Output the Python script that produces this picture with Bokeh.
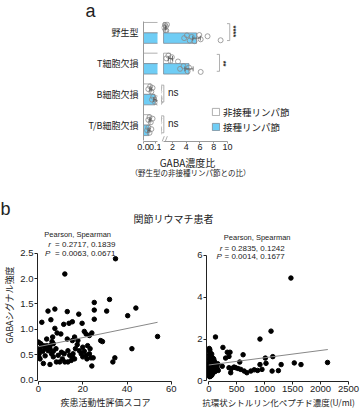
import numpy as np
from bokeh.plotting import figure
from bokeh.layouts import column, row
from bokeh.models import (Range1d, FixedTicker, ColumnDataSource, Legend, LegendItem,
                          NumeralTickFormatter)
from bokeh.core.properties import value
from bokeh.embed import file_html
from bokeh.resources import INLINE

JP = "Noto Sans CJK JP"
LAT = "Liberation Sans"
INK = "#222222"
GREY = "#9a9a9a"
BLUE = "#6FCDF5"

# ---------------- data: panel a
groups = ["野生型", "T細胞欠損", "B細胞欠損", "T/B細胞欠損"]
series_names = ["非接種リンパ節", "接種リンパ節"]
mean_non = [1.0, 1.7, 0.06, 0.055]
mean_ino = [5.5, 4.4, 0.095, 0.045]
sem_non = [0.06, 0.3, 0.008, 0.007]
sem_ino = [0.55, 0.6, 0.01, 0.008]
pts_non = [[0.8, 0.9, 1.0, 1.05, 1.1, 1.2], [1.1, 1.4, 1.7, 1.9, 2.8],
           [0.04, 0.055, 0.065, 0.075], [0.04, 0.05, 0.06, 0.075]]
pts_ino = [[3.7, 4.1, 4.5, 4.8, 5.2, 5.9, 6.1, 7.1, 9.0], [3.1, 3.6, 4.2, 4.4, 6.1],
           [0.07, 0.08, 0.095, 0.11, 0.12], [0.03, 0.04, 0.05, 0.065]]
sig_labels = ["****", "**", "ns", "ns"]
xticks_low = [0.0, 0.1]
xticks_high = [2, 4, 6, 8, 10]
break_high = 0.7
axis_high_max = 10
xlabel_a = "GABA濃度比"
xsub_a = "（野生型の非接種リンパ節との比）"

# ---------------- data: panel b
das_score = [34.8, 11.9, 32.1, 30.8, 44.0, 40.3, 53.8, 42.2, 34.5, 33.6, 28.9,
             25.2, 25.2, 25.2, 4.3, 7.4, 13.0, 18.2, 1.5, 5.6, 11.4, 15.3, 13.8, 19.7,
             7.4, 8.4, 10.1, 20.7, 21.5, 23.0, 24.1, 16.3, 13.0, 15.3, 6.4, 3.7, 0.0,
             1.0, 2.2, 4.0, 5.2, 6.7, 7.9, 4.4, 1.9, 0.3, 0.7, 3.0, 5.9, 6.7, 8.9, 10.4,
             11.6, 10.8, 9.6, 11.9, 13.3, 14.1, 14.8, 16.3, 15.6, 16.7, 17.5, 17.8, 18.5,
             19.3, 20.0, 20.7, 21.5, 21.9, 23.0, 23.7, 24.7, 24.1, 20.0, 22.2, 23.3, 28.1,
             2.2, 5.2, 8.1, 13.3, 15.3, 0.0, 0.2, 3.7, 3.0, 5.2, 6.7, 0.7, 6.1]
gaba_das = [2.39, 2.09, 1.59, 1.36, 1.42, 1.27, 0.86, 0.62, 0.44, 0.36, 0.76,
            1.53, 1.38, 1.20, 1.36, 1.40, 1.35, 1.30, 1.14, 1.19, 1.10, 1.15, 1.12, 1.12,
            1.02, 0.93, 0.91, 0.96, 0.91, 0.88, 0.93, 0.85, 0.81, 0.78, 0.85, 0.81, 0.75,
            0.72, 0.68, 0.65, 0.68, 0.72, 0.62, 0.58, 0.57, 0.52, 0.42, 0.48, 0.52, 0.46, 0.49, 0.55,
            0.52, 0.42, 0.36, 0.36, 0.58, 0.49, 0.39, 0.42, 0.52, 0.62, 0.70, 0.78, 0.58,
            0.52, 0.46, 0.57, 0.49, 0.42, 0.52, 0.44, 0.44, 0.28, 0.65, 0.68, 0.62, 0.78,
            0.33, 0.31, 0.36, 0.36, 0.46, 0.55, 0.45, 0.68, 0.62, 0.62, 0.57, 0.63, 0.76]
acpa = [1470, 1114, 916, 120, 253, 331, 380, 614, 301, 361, 1012, 1145, 554, 916, 1024,
        1295, 1530, 1650, 2125, 241, 361, 404, 482, 524, 392, 572, 633, 681, 753, 813,
        873, 952, 1133, 1245, 452,
        5, 6, 7, 8, 9, 10, 11, 12, 13, 14, 15, 16, 18, 19, 20, 21, 22, 24, 25, 26, 27, 28,
        30, 31, 32, 34, 35, 36, 38, 40, 41, 42, 44, 45, 47, 48, 50, 52, 53, 55, 57, 58, 60,
        62, 64, 66, 68, 70, 72, 75, 78, 80, 83, 85, 88, 90, 93, 95, 98, 100, 105, 110, 115,
        120, 125, 130, 140, 150, 160, 170, 15, 30, 45, 60, 8, 18]
gaba_acpa = [4.92, 2.38, 2.0, 2.1, 1.6, 1.37, 1.37, 1.25, 1.09, 1.17, 1.09, 1.16, 0.9, 0.78, 0.84,
             0.78, 0.86, 0.78, 0.88, 0.70, 0.63, 0.59, 0.63, 0.59, 0.39, 0.55, 0.47, 0.39, 0.47, 0.53,
             0.50, 0.55, 0.47, 0.49, 0.66,
             0.25, 0.45, 0.62, 0.9, 1.2, 1.45, 0.35, 0.55, 0.75, 1.05, 1.3, 0.3, 0.5, 0.68, 0.85, 1.1,
             1.38, 0.28, 0.42, 0.6, 0.78, 0.95, 1.2, 0.38, 0.52, 0.7, 0.88, 1.02, 0.32, 0.47, 0.63,
             0.8, 1.15, 0.4, 0.55, 0.72, 0.92, 1.28, 0.35, 0.5, 0.66, 0.83, 1.0, 0.45, 0.6, 0.76,
             1.1, 0.38, 0.55, 0.7, 0.9, 0.5, 0.65, 0.8, 1.05, 0.42, 0.58, 0.75, 0.95, 0.5, 0.68,
             0.85, 0.45, 0.62, 0.78, 0.55, 0.7, 0.6, 0.82, 0.5, 0.2, 0.22, 0.25, 0.3, 1.55, 1.5]
fit_das_x = [0, 53.8]
fit_das_y = [0.66, 1.14]
fit_acpa_x = [0, 2130]
fit_acpa_y = [0.76, 1.50]
stat_header = "Pearson, Spearman"
r_das = [0.2717, 0.1839]
p_das = [0.0063, 0.0671]
r_acpa = [0.2835, 0.1242]
p_acpa = [0.0014, 0.1677]
das_ticks = [0, 20, 40, 60]
das_yticks = [0.0, 0.5, 1.0, 1.5, 2.0, 2.5]
acpa_ticks = [0, 500, 1000, 1500, 2000, 2500]
acpa_yticks = [0, 2, 4, 6]
title_b = "関節リウマチ患者"
ylabel_b = "GABAシグナル強度"
xlabel_das = "疾患活動性評価スコア"
xlabel_acpa = "抗環状シトルリン化ペプチド濃度(U/ml)"


def fig(w, h, xr, yr, **kw):
    p = figure(width=w, height=h, x_range=xr, y_range=yr, output_backend="svg",
               toolbar_location=None, **kw)
    p.min_border = 0
    p.outline_line_color = None
    for g in p.grid:
        g.visible = False
    return p


def style_axis(ax, color=INK, font=LAT, size="9.5px"):
    ax.axis_line_color = color
    ax.major_tick_line_color = color
    ax.minor_tick_line_color = None
    ax.major_tick_in = 0
    ax.major_tick_out = 3
    ax.major_label_text_font = font
    ax.major_label_text_font_size = size
    ax.major_label_text_color = INK
    ax.major_label_standoff = 1
    ax.axis_label_text_font = JP
    ax.axis_label_text_font_size = "9px"
    ax.axis_label_text_font_style = "normal"
    ax.axis_label_text_color = INK
    ax.axis_label_standoff = 1


# ---------------- header strip with "a" (page y 0..21)
head = fig(360, 21, Range1d(0, 360), Range1d(21, 0), x_axis_location=None, y_axis_location=None)
head.text(x=[85], y=[10.5], text=["a"], text_font=value(LAT), text_font_size="18px",
          text_color=INK, text_align="left", text_baseline="middle")

# ---------------- panel a (broken x axis -> two figures), page y 21..155
H = 0.34
cat = np.arange(len(groups), dtype=float)
yr_a = Range1d(3.533, -0.37)
pa_L = fig(161, 134, Range1d(0, 0.116), yr_a)
pa_L.min_border_left = 143
pa_L.min_border_right = 4
pa_L.min_border_bottom = 14
pa_R = fig(199, 134, Range1d(0.4, 29.35), yr_a, y_axis_location=None)
pa_R.min_border_bottom = 14

jit = [0.0, -0.09, 0.08, -0.04, 0.1, -0.1, 0.04, -0.06, 0.07]

for p, low in ((pa_L, True), (pa_R, False)):
    rend = []
    for means, sems, pts, off, fill in ((mean_non, sem_non, pts_non, -H / 2, "white"),
                                        (mean_ino, sem_ino, pts_ino, H / 2, BLUE)):
        idx = [i for i in range(len(groups)) if low or means[i] > break_high]
        src = ColumnDataSource(dict(
            left=[0.0 if low else break_high for i in idx],
            right=[means[i] for i in idx],
            top=[cat[i] + off - H / 2 for i in idx],
            bottom=[cat[i] + off + H / 2 for i in idx]))
        r = p.quad(left="left", right="right", top="top", bottom="bottom", source=src,
                   fill_color=fill, line_color="#7d8a96" if fill != "white" else GREY,
                   line_width=0.8)
        rend.append(r)
        xs, ys = [], []
        for i, vals in enumerate(pts):
            for j, v in enumerate(vals):
                xs.append(v)
                ys.append(cat[i] + off + jit[j % len(jit)])
        p.scatter(xs, ys, size=5, fill_alpha=0, line_color="#8a8a8a", line_width=0.8)
        yb = [cat[i] + off for i in range(len(groups))]
        lo = [m - s for m, s in zip(means, sems)]
        hi = [m + s for m, s in zip(means, sems)]
        p.segment(x0=lo, x1=hi, y0=yb, y1=yb, line_color="#555555", line_width=0.8)
        p.segment(x0=hi + lo, x1=hi + lo, y0=[y - 0.08 for y in yb] * 2,
                  y1=[y + 0.08 for y in yb] * 2, line_color="#555555", line_width=0.8)
    if not low:
        for k, loc_y in ((0, 22.5), (1, 7.5)):
            lg = Legend(items=[LegendItem(label=series_names[k], renderers=[rend[k]])],
                        location=(50, loc_y), padding=0, margin=0, spacing=0,
                        glyph_width=9, glyph_height=9, label_height=9, label_standoff=3,
                        label_text_font=JP, label_text_font_size="9.5px",
                        label_text_color=INK, border_line_color=None,
                        background_fill_alpha=0)
            p.add_layout(lg)

# axes of panel a
axL = pa_L.xaxis[0]
style_axis(axL, GREY, LAT, "9px")
axL.ticker = FixedTicker(ticks=xticks_low)
axL.formatter = NumeralTickFormatter(format="0.0")
axL.major_tick_out = 2
axL.major_label_standoff = 0
ayL = pa_L.yaxis[0]
style_axis(ayL, GREY, JP, "9px")
ayL.ticker = FixedTicker(ticks=list(cat))
ayL.major_label_overrides = {int(i): g for i, g in enumerate(groups)}
ayL.major_tick_line_color = None
ayL.major_tick_out = 0
ayL.major_label_standoff = 5
ayL.bounds = (-0.5, 3.5)
axR = pa_R.xaxis[0]
style_axis(axR, GREY, LAT, "9px")
axR.ticker = FixedTicker(ticks=xticks_high)
axR.bounds = (break_high, axis_high_max)
axR.major_tick_out = 2
axR.major_label_standoff = 0

# break marks
pa_R.segment(x0=[0.45, 0.9], x1=[0.8, 1.25], y0=[3.56, 3.56], y1=[3.36, 3.36],
             line_color=GREY, line_width=0.8)

# significance brackets
br_x = [10.33, 8.84, 0.74, 0.74]
tick = 0.4
bx0, bx1, by0, by1 = [], [], [], []
for i, bx in enumerate(br_x):
    t, b = cat[i] - 0.3, cat[i] + 0.25
    bx0 += [bx, bx - tick, bx - tick]
    bx1 += [bx, bx, bx]
    by0 += [t, t, b]
    by1 += [b, t, b]
pa_R.segment(x0=bx0, x1=bx1, y0=by0, y1=by1, line_color=GREY, line_width=0.8)
pa_R.text(x=[10.9, 9.45], y=[cat[0] - 0.05, cat[1]], text=sig_labels[:2], angle=-np.pi / 2,
          text_font=value(LAT), text_font_size="7.5px", text_font_style="bold",
          text_color=INK, text_align="center", text_baseline="middle")
pa_R.text(x=[1.35, 1.35], y=[cat[2] - 0.05, cat[3] - 0.05], text=sig_labels[2:],
          text_font=value(LAT), text_font_size="10px", text_color=INK,
          text_align="left", text_baseline="middle")

# ---------------- middle text strip (page y 155..228)
mid = fig(360, 73, Range1d(0, 360), Range1d(73, 0), x_axis_location=None, y_axis_location=None)
mid.text(x=[187], y=[7], text=[xlabel_a], text_font=value(JP), text_font_size="10px",
         text_color=INK, text_align="center", text_baseline="middle")
mid.text(x=[190], y=[17], text=[xsub_a], text_font=value(JP), text_font_size="7.5px",
         text_color=INK, text_align="center", text_baseline="middle")
mid.text(x=[0], y=[53.5], text=["b"], text_font=value(LAT), text_font_size="18px",
         text_color=INK, text_align="left", text_baseline="middle")
mid.text(x=[173], y=[63], text=[title_b], text_font=value(JP), text_font_size="10px",
         text_color=INK, text_align="center", text_baseline="middle")

# ---------------- panel b scatter plots (page y 228..411)
def scatter_panel(w, xr, yr, xs, ys, fx, fy, xt, yt, xb, yb, xlab, ylab, fmt,
                  mbl, mbr, stats_pos, r_vals, p_vals, xlab_size):
    p = fig(w, 183, xr, yr)
    p.min_border_left = mbl
    p.min_border_right = mbr
    p.min_border_bottom = 28
    p.scatter(xs, ys, size=4.5, color="black")
    p.line(fx, fy, line_color="#888888", line_width=1)
    ax, ay = p.xaxis[0], p.yaxis[0]
    style_axis(ax)
    style_axis(ay)
    ax.ticker = FixedTicker(ticks=xt)
    ay.ticker = FixedTicker(ticks=yt)
    ax.bounds = xb
    ay.bounds = yb
    ax.axis_label = xlab
    ax.axis_label_text_font_size = xlab_size
    if ylab:
        ay.axis_label = ylab
    if fmt:
        ay.formatter = NumeralTickFormatter(format=fmt)
    cx, xr_, xe, xp, y0, y1, y2 = stats_pos
    p.text(x=[cx], y=[y0], text=[stat_header], text_font=value(LAT), text_font_size="7.5px",
           text_color=INK, text_align="center", text_baseline="middle")
    p.text(x=[xr_, xp], y=[y1, y2], text=["r", "P"], text_font=value(LAT),
           text_font_size="8px", text_font_style="italic", text_color=INK,
           text_align="left", text_baseline="middle")
    p.text(x=[xe, xe], y=[y1, y2],
           text=["=  %.4f,  %.4f" % tuple(r_vals), "=  %.4f,  %.4f" % tuple(p_vals)],
           text_font=value(LAT), text_font_size="8px", text_color=INK,
           text_align="left", text_baseline="middle")
    return p


pb_L = scatter_panel(180, Range1d(-0.45, 61), Range1d(-0.025, 2.985), das_score, gaba_das,
                     fit_das_x, fit_das_y, das_ticks, das_yticks, (0, 60), (0, 2.5),
                     xlabel_das, ylabel_b, "0.0", 34, 7,
                     (17.7, 4.4, 7.5, 2.9, 2.86, 2.67, 2.49), r_das, p_das, "9px")
pb_R = scatter_panel(180, Range1d(-41, 2536), Range1d(-0.03, 7.29), acpa, gaba_acpa,
                     fit_acpa_x, fit_acpa_y, acpa_ticks, acpa_yticks, (0, 2500), (0, 6),
                     xlabel_acpa, None, None, 26, 10,
                     (866, 197, 281, 138, 6.84, 6.31, 5.95), r_acpa, p_acpa, "8.5px")

layout = column(head, row(pa_L, pa_R), mid, row(pb_L, pb_R))
open("out.html", "w").write(file_html(layout, INLINE))
